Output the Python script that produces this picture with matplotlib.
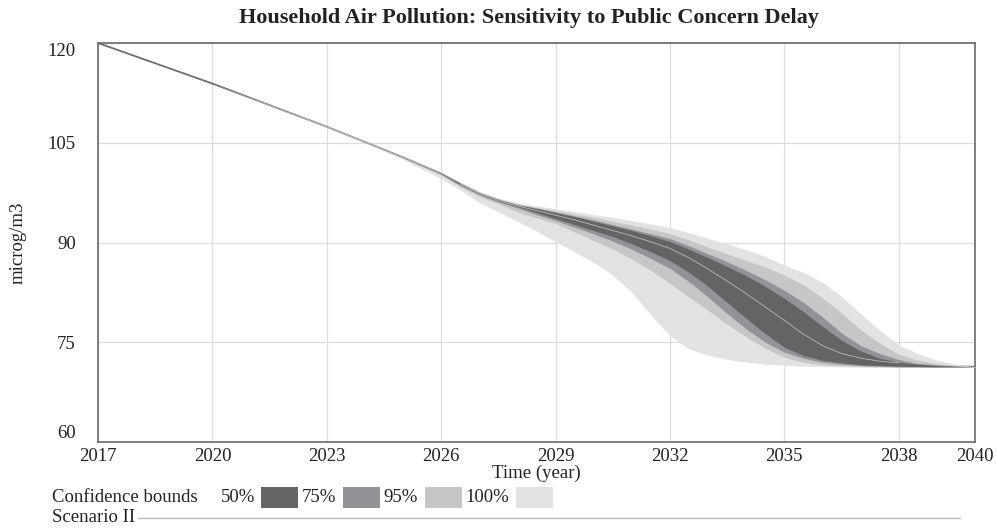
"""
Household air pollution: sensitivity bands (Vensim-style confidence plot).
"""
import numpy as np
import matplotlib
matplotlib.use('Agg')
import matplotlib.pyplot as plt
from matplotlib.patches import Rectangle

# Time axis (years) and series
years = [2017, 2020, 2023, 2024, 2025, 2026, 2026.5, 2027, 2027.5, 2028, 2028.5,
         2029, 2029.5, 2030, 2030.5, 2031, 2031.5, 2032, 2032.5, 2033, 2033.5,
         2034, 2034.5, 2035, 2035.5, 2036, 2036.5, 2037, 2037.5, 2038, 2038.5,
         2039, 2039.5, 2040]

median = [120.0, 113.9, 107.4, 105.1, 102.8, 100.4, 98.8, 97.4, 96.3, 95.5, 94.8,
          94.1, 93.4, 92.6, 91.8, 91.0, 90.1, 89.1, 87.7, 86.0, 84.2,
          82.3, 80.3, 78.3, 76.2, 74.5, 73.3, 72.6, 72.15, 71.9, 71.7,
          71.5, 71.4, 71.3]

# upper / lower bounds per confidence level
up_100 = [120.0, 113.9, 107.5, 105.2, 102.9, 100.6, 99.1, 97.7, 96.7, 96.0, 95.5,
          95.1, 94.65, 94.2, 93.8, 93.3, 92.8, 92.25, 91.5, 90.6, 89.8,
          88.9, 87.9, 86.6, 85.5, 84.0, 81.9, 79.3, 76.8, 74.6, 73.3,
          72.3, 71.7, 71.3]
lo_100 = [120.0, 113.9, 107.3, 105.0, 102.5, 99.6, 97.9, 96.0, 94.6, 93.2, 91.7,
          90.1, 88.6, 87.0, 85.1, 82.5, 79.1, 76.0, 74.0, 73.05, 72.45,
          72.0, 71.7, 71.55, 71.4, 71.35, 71.3, 71.25, 71.25, 71.2, 71.2,
          71.2, 71.2, 71.2]
up_95 = [120.0, 113.9, 107.45, 105.15, 102.85, 100.5, 99.0, 97.6, 96.6, 95.8, 95.3,
         94.8, 94.3, 93.8, 93.2, 92.6, 92.0, 91.35, 90.4, 89.3, 88.3,
         87.3, 86.3, 85.1, 83.6, 81.7, 79.4, 76.9, 74.85, 73.2, 72.3,
         71.8, 71.5, 71.3]
lo_95 = [120.0, 113.9, 107.35, 105.05, 102.7, 100.1, 98.4, 96.9, 95.8, 94.6, 93.7,
         92.85, 91.6, 90.3, 89.0, 87.5, 85.8, 83.85, 81.8, 79.8, 77.7,
         75.8, 74.1, 72.75, 72.0, 71.6, 71.45, 71.35, 71.3, 71.3, 71.3,
         71.3, 71.3, 71.3]
up_75 = [120.0, 113.9, 107.42, 105.12, 102.82, 100.45, 98.95, 97.5, 96.5, 95.7, 95.2,
         94.6, 94.0, 93.4, 92.7, 92.0, 91.3, 90.6, 89.5, 88.3, 87.1,
         85.8, 84.4, 82.8, 81.0, 78.8, 76.4, 74.5, 73.3, 72.4, 71.8,
         71.6, 71.4, 71.3]
lo_75 = [120.0, 113.9, 107.38, 105.08, 102.75, 100.3, 98.6, 97.2, 96.1, 95.2, 94.2,
         93.3, 92.3, 91.3, 90.2, 89.0, 87.6, 86.1, 84.1, 81.8, 79.3,
         77.0, 75.0, 73.5, 72.6, 72.0, 71.7, 71.5, 71.4, 71.3, 71.3,
         71.3, 71.3, 71.3]
up_50 = [120.0, 113.9, 107.41, 105.11, 102.81, 100.42, 98.9, 97.45, 96.45, 95.65, 95.1,
         94.5, 93.9, 93.2, 92.5, 91.8, 91.0, 90.15, 89.0, 87.7, 86.4,
         85.0, 83.4, 81.6, 79.6, 77.4, 75.3, 73.7, 72.6, 72.0, 71.7,
         71.5, 71.4, 71.3]
lo_50 = [120.0, 113.9, 107.39, 105.09, 102.78, 100.35, 98.7, 97.3, 96.2, 95.4, 94.5,
         93.6, 92.7, 91.8, 90.9, 89.8, 88.6, 87.3, 85.5, 83.4, 81.0,
         78.6, 76.3, 74.25, 73.0, 72.3, 71.9, 71.6, 71.5, 71.4, 71.35,
         71.3, 71.3, 71.3]

levels = ['50%', '75%', '95%', '100%']
band_colors = ['#646466', '#939397', '#c6c6c8', '#e1e2e4']

x_ticks = [2017, 2020, 2023, 2026, 2029, 2032, 2035, 2038, 2040]
y_ticks = [60, 75, 90, 105, 120]

plt.rcParams['font.family'] = ['Liberation Serif', 'DejaVu Serif']

W, H = 997, 528
fig = plt.figure(figsize=(W / 100, H / 100), dpi=100)
ax = fig.add_axes([98 / W, 1 - 442 / H, (975 - 98) / W, (442 - 43) / H])

x = np.array(years)
bands = [(up_100, lo_100), (up_95, lo_95), (up_75, lo_75), (up_50, lo_50)]
# base run line (visible where the bands collapse)
ax.plot(x, median, color='#6e6e6e', lw=1.3, zorder=2)
for (up, lo), col in zip(bands, band_colors[::-1]):
    ax.fill_between(x, lo, up, color=col, lw=0, zorder=3)
mask = (x >= 2026.5) & (x <= 2038)
ax.plot(x[mask], np.array(median)[mask], color='#b9b9b9', lw=0.6, zorder=4)

ax.set_xlim(2017, 2040)
ax.set_ylim(60, 120)
ax.set_xticks(x_ticks)
ax.set_yticks(y_ticks)
ax.grid(True, color='#dcdcdc', lw=0.9, zorder=0)
ax.set_axisbelow(True)
ax.tick_params(length=0, labelsize=13.5, colors='#222222')
ax.tick_params(axis='y', pad=16)
ax.tick_params(axis='x', pad=4)
ylabels = ax.get_yticklabels()
ylabels[0].set_va('bottom')
ylabels[-1].set_va('top')
for sp in ax.spines.values():
    sp.set_color('#6a6a6a')
    sp.set_linewidth(1.2)

ax.set_xlabel('Time (year)', fontsize=13.5, color='#222222', labelpad=0)
fig.text(18 / W, 1 - 243 / H, 'microg/m3', rotation=90, fontsize=13.5,
         color='#222222', ha='center', va='center')

fig.text(529 / W, 1 - 18 / H, 'Household Air Pollution: Sensitivity to Public Concern Delay',
         fontsize=16, fontweight='bold', ha='center', va='center', color='#222222')

# legend for the confidence bounds
ly = 1 - 497 / H
fig.text(52 / W, ly, 'Confidence bounds', fontsize=13.5, va='center', color='#222222')
lab_x = [221, 302, 383, 465]
sw_x = [261, 343, 425, 516]
for lab, lx, sx, col in zip(levels, lab_x, sw_x, band_colors):
    fig.text(lx / W, ly, lab, fontsize=13.5, va='center', color='#222222')
    fig.add_artist(Rectangle((sx / W, 1 - 508 / H), 37 / W, 21 / H,
                             transform=fig.transFigure, color=col, lw=0))
fig.text(52 / W, 1 - 518 / H, 'Scenario II', fontsize=13.5, va='center', color='#222222')
fig.add_artist(plt.Line2D([138 / W, 960 / W], [1 - 518 / H, 1 - 518 / H],
                          transform=fig.transFigure, color='#bbbbbb', lw=1))

fig.savefig('out.png', dpi=100)
